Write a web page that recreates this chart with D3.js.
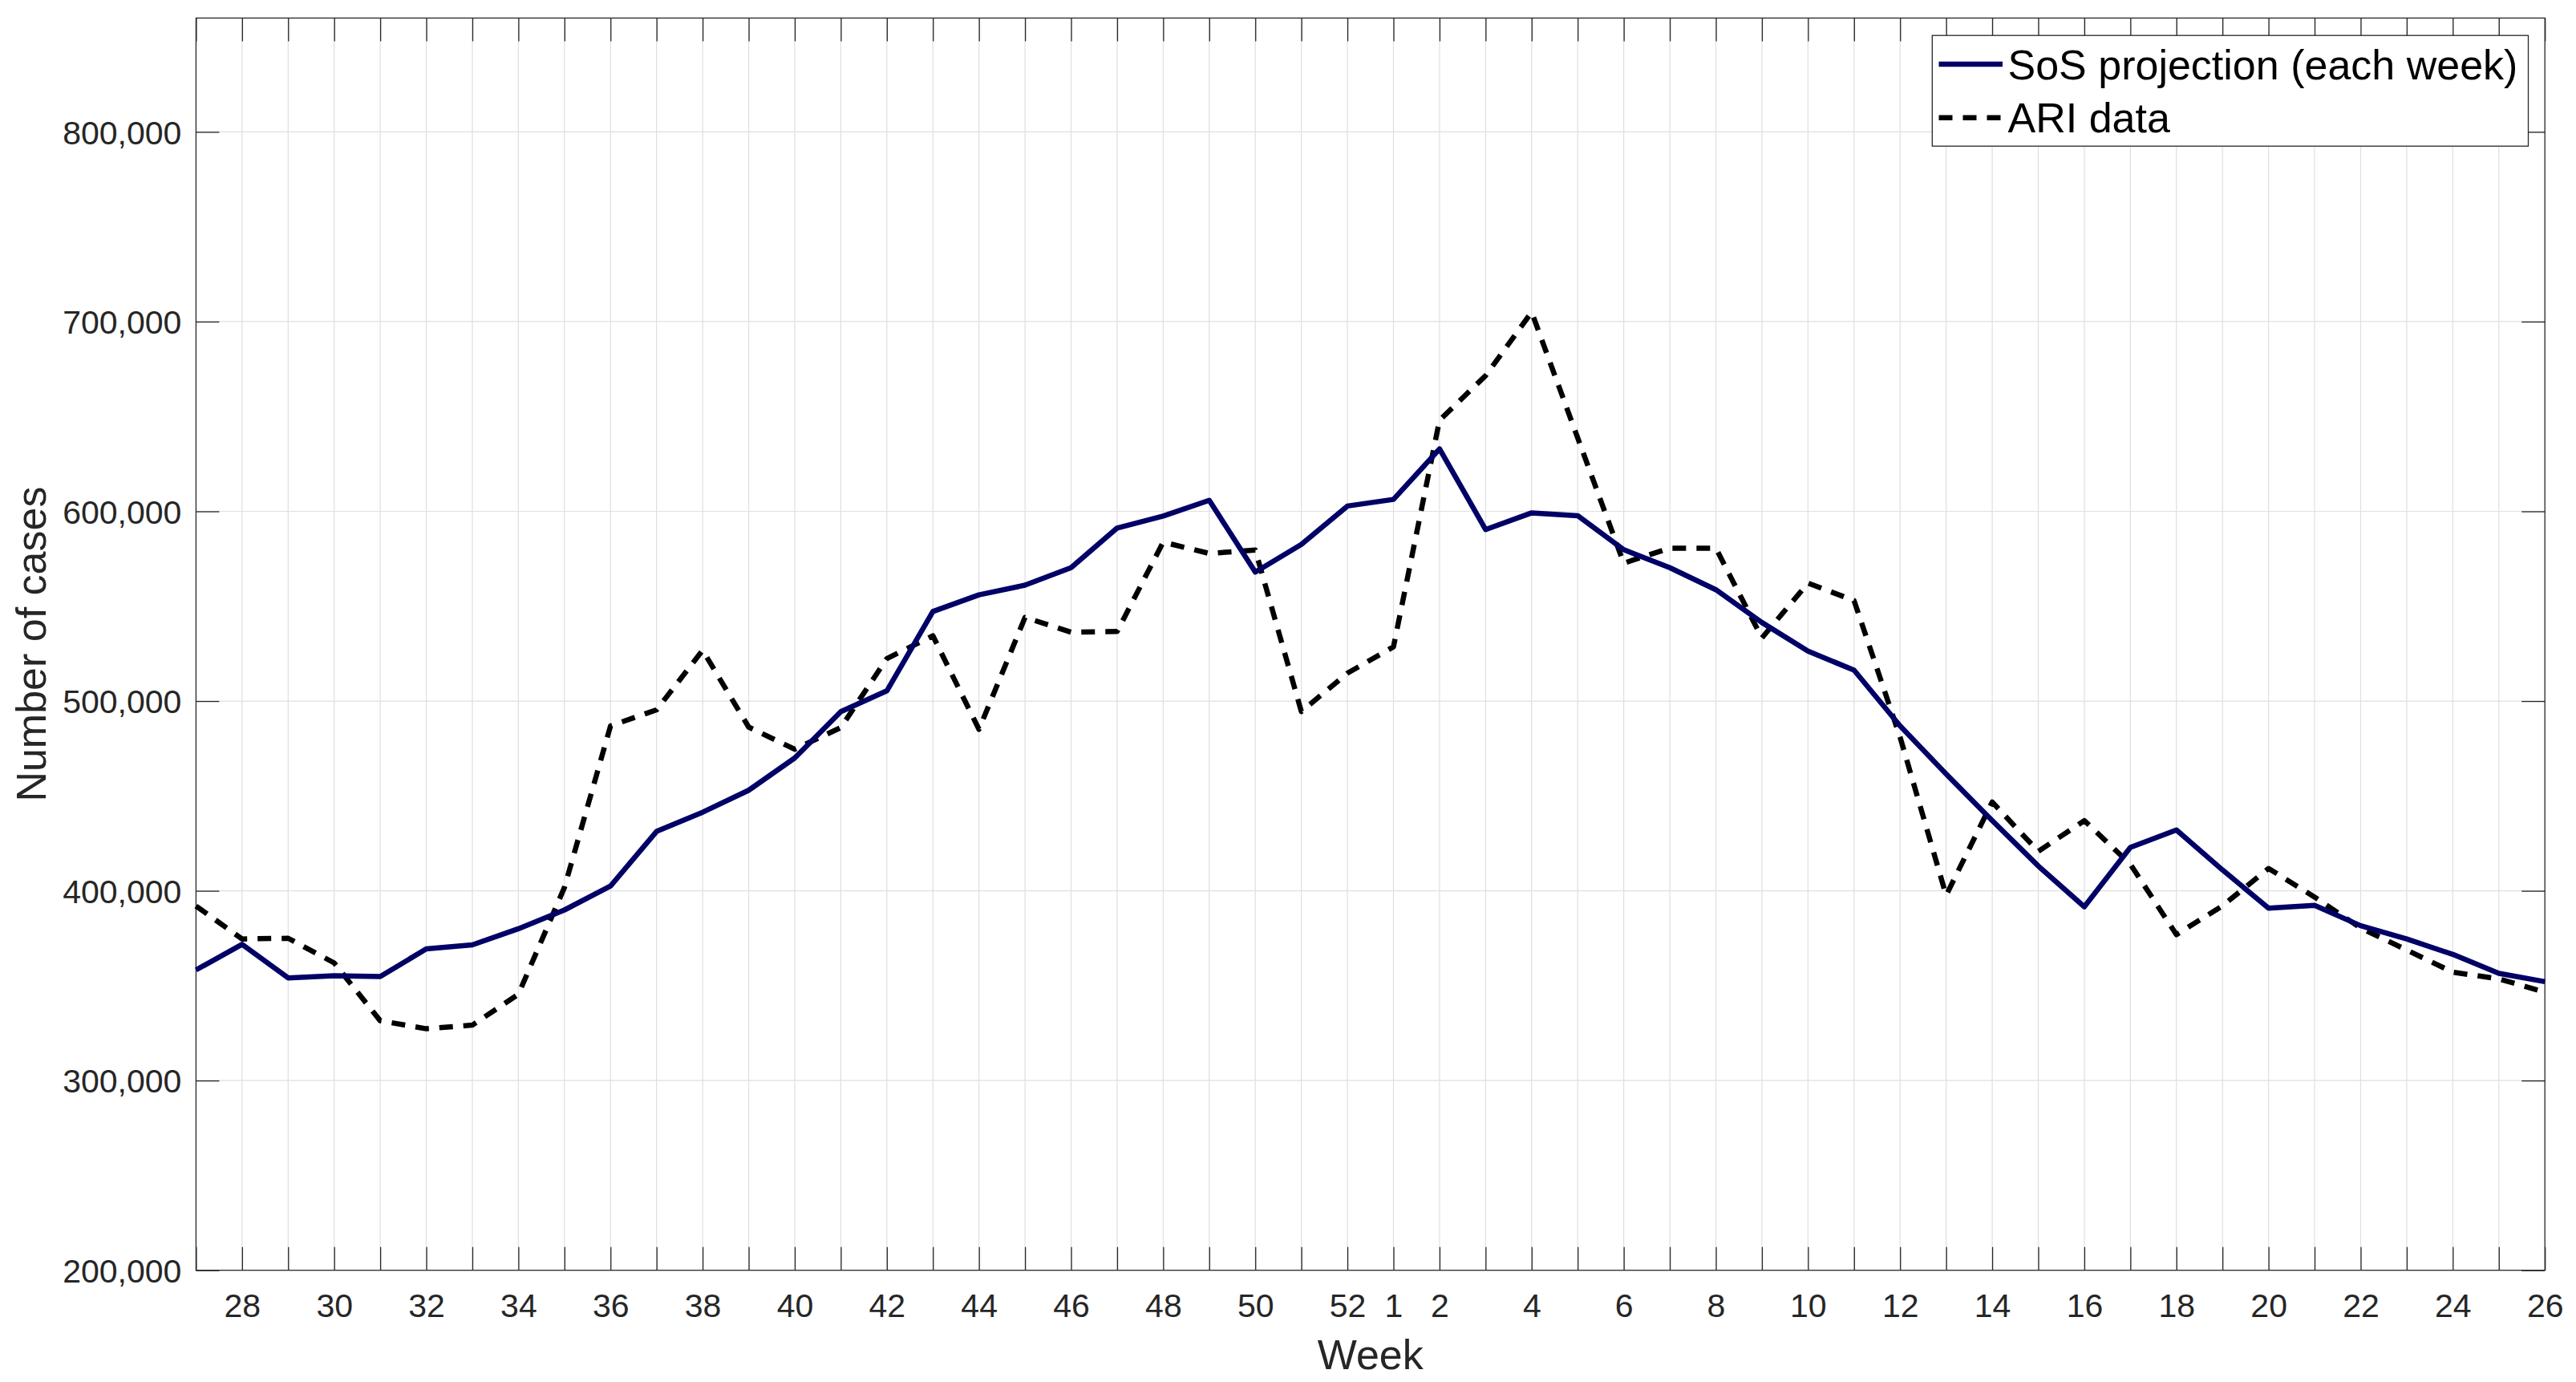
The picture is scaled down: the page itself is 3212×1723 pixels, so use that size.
<!DOCTYPE html>
<html>
<head>
<meta charset="utf-8">
<script src="https://cdn.jsdelivr.net/npm/d3@7"></script>
<style>
  html, body { margin: 0; padding: 0; background: #ffffff; }
  svg { display: block; }
  text { font-family: "Liberation Sans", Arial, Helvetica, sans-serif; }
</style>
</head>
<body>
<div id="chart"></div>
<script>
// ---------------- data ----------------
const weeks = [27,28,29,30,31,32,33,34,35,36,37,38,39,40,41,42,43,44,45,46,47,48,49,50,51,52,
               1,2,3,4,5,6,7,8,9,10,11,12,13,14,15,16,17,18,19,20,21,22,23,24,25,26];

const sosProjection = [
  358300, 371800, 354100, 355200, 354800, 369400, 371500, 380000, 389900, 402500,
  431300, 441400, 453000, 470000, 494400, 505400, 547200, 556000, 561100, 570300,
  591200, 597500, 605800, 568000, 582600, 602800,
  606300, 632900, 590400, 599200, 597700, 579800, 570300, 558700, 541400, 526300,
  516300, 486900, 461600, 437000, 413100, 391600, 422900, 432100, 411000, 390900,
  392300, 381600, 374600, 366500, 356500, 352100
];

const ariData = [
  392000, 374600, 375000, 362000, 331500, 327300, 329200, 345500, 401800, 486900,
  495400, 526800, 486300, 474600, 486000, 522400, 534400, 485100, 544100, 536300,
  536700, 583800, 577800, 579600, 494500, 514700,
  528600, 648000, 671500, 705000, 638700, 572700, 580600, 580600, 533300, 562200,
  553000, 481000, 397600, 446800, 420800, 437000, 414000, 376900, 392100, 411800,
  396700, 380400, 368800, 357100, 353600, 346600
];

const yTicks = [200000, 300000, 400000, 500000, 600000, 700000, 800000];
const labeledWeeks = [28,30,32,34,36,38,40,42,44,46,48,50,52,1,2,4,6,8,10,12,14,16,18,20,22,24,26];
const seriesNames = ["SoS projection (each week)", "ARI data"];

// ---------------- layout ----------------
const W = 3212, H = 1723;
const L = 244.4, R = 3173.2, T = 22.5, B = 1583.7;
const tickLen = 29;
const axisColor = "#262626";
const gridColor = "#dfdfdf";
const navy = "#000066";

const svg = d3.select("#chart").append("svg")
  .attr("width", W).attr("height", H);

const x = d3.scaleLinear().domain([0, weeks.length - 1]).range([L, R]);
const y = d3.scaleLinear().domain([200000, 860000]).range([B, T]);

const idx = d3.range(weeks.length);

// grid
const grid = svg.append("g").attr("stroke", gridColor).attr("stroke-width", 1.2);
grid.selectAll("line.vx").data(idx.slice(1, -1)).join("line")
  .attr("x1", d => x(d)).attr("x2", d => x(d))
  .attr("y1", T).attr("y2", B);
grid.selectAll("line.hy").data(yTicks.filter(v => v > 200000)).join("line")
  .attr("x1", L).attr("x2", R)
  .attr("y1", d => y(d)).attr("y2", d => y(d));

// axes
const fmtX = i => labeledWeeks.includes(weeks[i]) ? String(weeks[i]) : "";

function styleAxis(g) {
  g.select(".domain").remove();
  g.selectAll(".tick line").attr("stroke", axisColor).attr("stroke-width", 1.3);
  g.selectAll(".tick text").attr("fill", axisColor)
    .style("font-family", "'Liberation Sans', Arial, sans-serif");
}

const xAxisB = svg.append("g").attr("transform", `translate(0,${B})`)
  .call(d3.axisBottom(x).tickValues(idx).tickFormat(fmtX)
        .tickSizeInner(-tickLen).tickSizeOuter(0).tickPadding(29));
styleAxis(xAxisB);
xAxisB.selectAll(".tick text").style("font-size", "41px");

const xAxisT = svg.append("g").attr("transform", `translate(0,${T})`)
  .call(d3.axisTop(x).tickValues(idx).tickFormat("")
        .tickSizeInner(-tickLen).tickSizeOuter(0));
styleAxis(xAxisT);

const yAxisL = svg.append("g").attr("transform", `translate(${L},0)`)
  .call(d3.axisLeft(y).tickValues(yTicks).tickFormat(d3.format(","))
        .tickSizeInner(-tickLen).tickSizeOuter(0).tickPadding(18));
styleAxis(yAxisL);
yAxisL.selectAll(".tick text").style("font-size", "41px").attr("dy", "0.36em");

const yAxisR = svg.append("g").attr("transform", `translate(${R},0)`)
  .call(d3.axisRight(y).tickValues(yTicks).tickFormat("")
        .tickSizeInner(-tickLen).tickSizeOuter(0));
styleAxis(yAxisR);

// box
svg.append("rect")
  .attr("x", L).attr("y", T).attr("width", R - L).attr("height", B - T)
  .attr("fill", "none").attr("stroke", axisColor).attr("stroke-width", 1.3);

// axis labels
svg.append("text")
  .attr("x", (L + R) / 2).attr("y", 1707)
  .attr("text-anchor", "middle").attr("fill", axisColor)
  .style("font-size", "52px").text("Week");

svg.append("text")
  .attr("transform", `translate(57,${(T + B) / 2}) rotate(-90)`)
  .attr("text-anchor", "middle").attr("fill", axisColor)
  .style("font-size", "52px").text("Number of cases");

// lines
const line = d3.line().x((d, i) => x(i)).y(d => y(d));

svg.append("path").datum(ariData)
  .attr("d", line).attr("fill", "none")
  .attr("stroke", "#000000").attr("stroke-width", 6.5)
  .attr("stroke-dasharray", "17,13").attr("stroke-linejoin", "round");

svg.append("path").datum(sosProjection)
  .attr("d", line).attr("fill", "none")
  .attr("stroke", navy).attr("stroke-width", 6.5)
  .attr("stroke-linejoin", "round");

// legend
const lg = svg.append("g");
lg.append("rect")
  .attr("x", 2409.3).attr("y", 44.2).attr("width", 3152.5 - 2409.3).attr("height", 182.2 - 44.2)
  .attr("fill", "#ffffff").attr("stroke", axisColor).attr("stroke-width", 1.3);

const legendItems = [
  { name: seriesNames[0], color: navy, dash: null, ly: 80 },
  { name: seriesNames[1], color: "#000000", dash: "17,13", ly: 146.7 }
];
legendItems.forEach(it => {
  lg.append("line")
    .attr("x1", 2417.5).attr("x2", 2497).attr("y1", it.ly).attr("y2", it.ly)
    .attr("stroke", it.color).attr("stroke-width", 6.5)
    .attr("stroke-dasharray", it.dash);
  lg.append("text")
    .attr("x", 2503.5).attr("y", it.ly + 18.5)
    .attr("fill", "#000000").style("font-size", "52px")
    .text(it.name);
});
</script>
</body>
</html>
